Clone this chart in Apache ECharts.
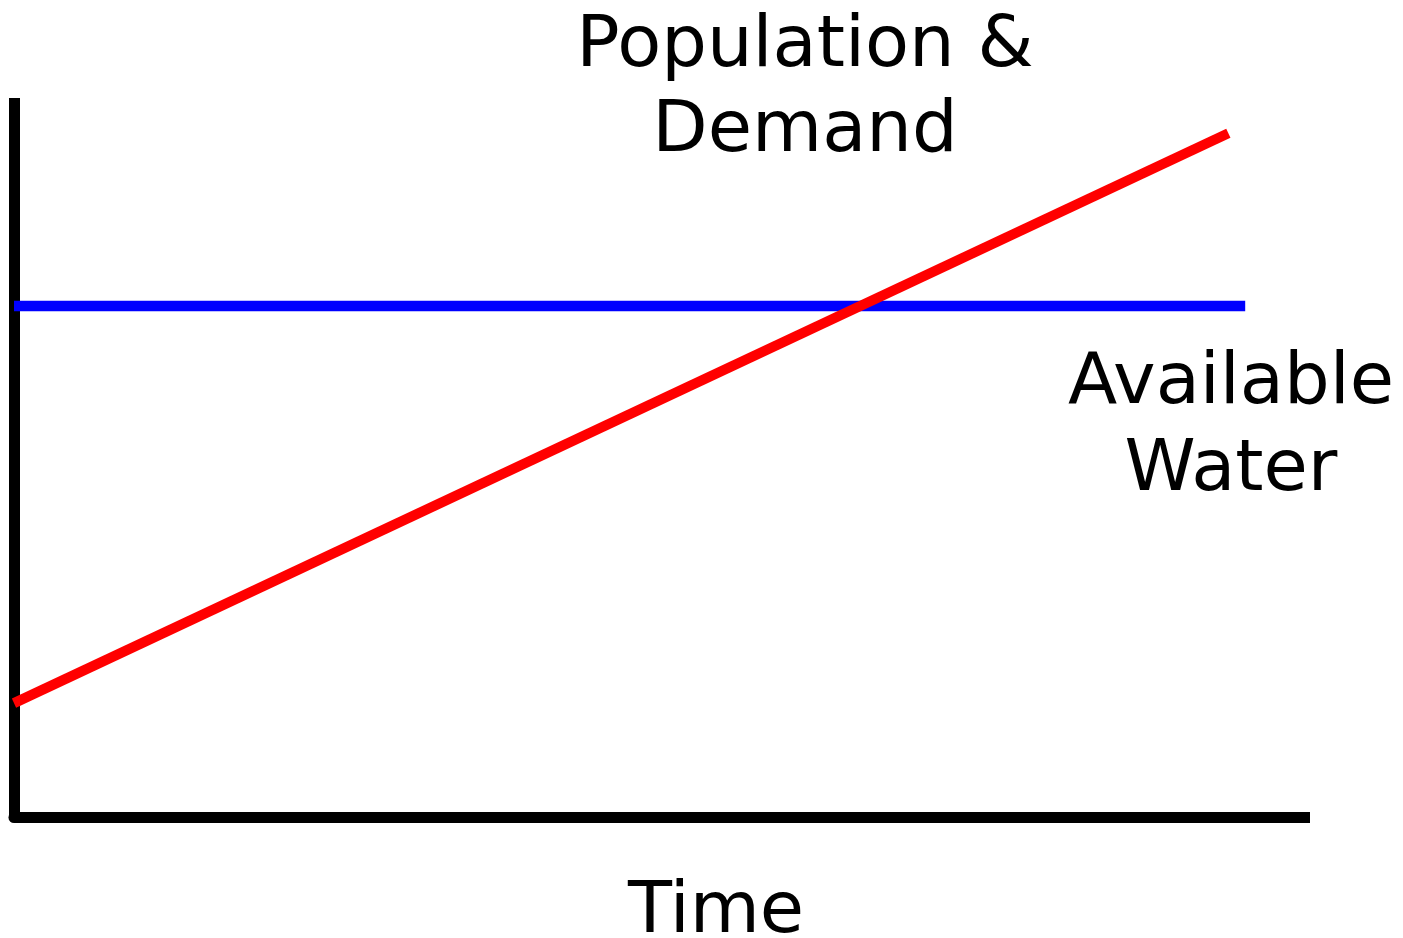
<!DOCTYPE html>
<html>
<head>
<meta charset="utf-8">
<script src="https://cdn.jsdelivr.net/npm/echarts@6/dist/echarts.min.js"></script>
<style>
html,body{margin:0;padding:0;background:#fff;}
#chart{width:1403px;height:938px;}
</style>
</head>
<body>
<div id="chart"></div>
<script>
// Data (abstract units, 0-100 on each axis)
const waterTime = [0, 95];
const waterLevel = [71.1, 71.1];
const demandTime = [0, 93.7];
const demandLevel = [15.9, 95.1];
const xLabel = 'Time';
const demandLabel = 'Population &\nDemand';
const waterLabel = 'Available\nWater';

const chart = echarts.init(document.getElementById('chart'));
const FONT = '"DejaVu Sans", Verdana, sans-serif';
chart.setOption({
  animation: false,
  backgroundColor: '#ffffff',
  grid: { left: 14, right: 93, top: 98, bottom: 120.5 },
  xAxis: {
    type: 'value', min: 0, max: 100,
    axisLine: { show: true, onZero: false, lineStyle: { color: '#000', width: 11, cap: 'butt' } },
    axisTick: { show: false }, axisLabel: { show: false }, splitLine: { show: false }
  },
  yAxis: {
    type: 'value', min: 0, max: 100,
    axisLine: { show: true, onZero: false, symbol: ['circle', 'none'], symbolSize: [11, 11],
      lineStyle: { color: '#000', width: 11, cap: 'butt' } },
    axisTick: { show: false }, axisLabel: { show: false }, splitLine: { show: false }
  },
  series: [
    {
      type: 'line', name: 'Available Water', symbol: 'none',
      data: waterTime.map((t, i) => [t, waterLevel[i]]),
      lineStyle: { color: '#0000ff', width: 10.5, cap: 'butt' }
    },
    {
      type: 'line', name: 'Population & Demand', symbol: 'none',
      data: demandTime.map((t, i) => [t, demandLevel[i]]),
      lineStyle: { color: '#ff0000', width: 10, cap: 'butt' }
    }
  ],
  graphic: [
    { type: 'text', x: 805, y: 90, style: { text: demandLabel, font: '72px ' + FONT, fill: '#000',
        textAlign: 'center', textVerticalAlign: 'middle', lineHeight: 85 } },
    { type: 'text', x: 1231, y: 428, style: { text: waterLabel, font: '72px ' + FONT, fill: '#000',
        textAlign: 'center', textVerticalAlign: 'middle', lineHeight: 87 } },
    { type: 'text', x: 716, y: 913, style: { text: xLabel, font: '72px ' + FONT, fill: '#000',
        textAlign: 'center', textVerticalAlign: 'middle' } }
  ]
});
</script>
</body>
</html>
